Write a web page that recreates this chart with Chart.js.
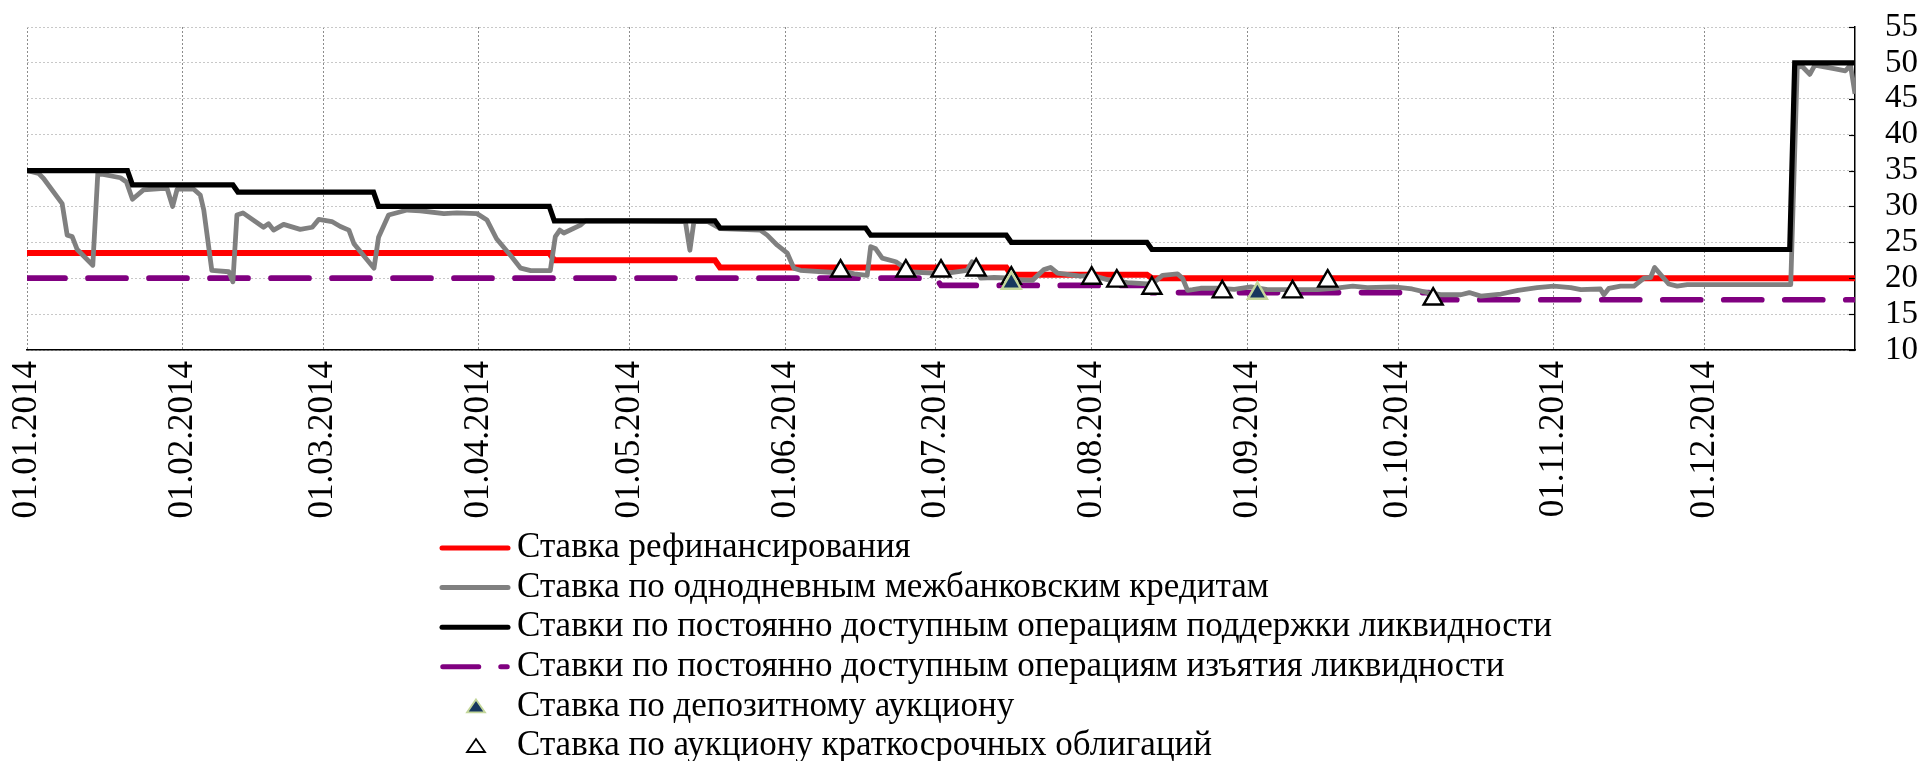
<!DOCTYPE html>
<html>
<head>
<meta charset="utf-8">
<script src="https://cdn.jsdelivr.net/npm/chart.js@4.4.1/dist/chart.umd.min.js"></script>
<style>
  body { margin: 0; background: #fff; }
  canvas { display: block; }
</style>
</head>
<body>
<canvas id="myChart" width="1923" height="761"></canvas>
<script>
// x axis = day of year 2014 (0 = 01.01.2014)
const monthDays = [0, 31, 59, 90, 120, 151, 181, 212, 243, 273, 304, 334];
const monthLabels = ['01.01.2014', '01.02.2014', '01.03.2014', '01.04.2014', '01.05.2014', '01.06.2014',
    '01.07.2014', '01.08.2014', '01.09.2014', '01.10.2014', '01.11.2014', '01.12.2014'];
const yTicks = [10, 15, 20, 25, 30, 35, 40, 45, 50, 55];

// Ставка рефинансирования
const refiDays  = [0, 104, 105, 137, 138, 195, 196, 223, 224, 364];
const refiRates = [23.5, 23.5, 22.5, 22.5, 21.5, 21.5, 20.5, 20.5, 20, 20];

// Ставка по однодневным межбанковским кредитам
const overnightDays = [0, 2.3, 3.3, 7, 8, 9, 10, 13.1, 14.1, 18.6, 19.8, 21, 23.2, 26.6, 27.9, 29, 29.9, 33.2, 34.5, 35.2,
    36.8, 40.2, 41, 41.8, 43, 47.1, 48.1, 49.1, 51.1, 54.4, 56.8, 58.1, 60.7, 62.4, 64.1, 65.1, 69.1, 70, 72, 75.7,
    78.3, 83, 85.6, 89.6, 91.6, 93.5, 96.5, 98.3, 100.3, 104.2, 105.2, 106.1, 106.9, 110.2, 111.2, 120, 131.1, 132, 132.8, 135.5,
    138.1, 146, 147.4, 149.4, 151.4, 152.7, 154, 160.7, 162, 164.7, 167.3, 168, 169, 170.3, 173, 174, 175, 180.6, 183.3, 187.2,
    188.2, 189.9, 192.6, 196.5, 197.9, 200.2, 202.5, 203.8, 205.2, 209.8, 212.1, 215.1, 219.1, 223.1, 224.4, 226.1, 229.1, 230.1, 231.1, 232.1,
    233.7, 237.7, 240.4, 243.7, 247, 251.6, 257, 260.3, 264, 266.9, 272.2, 275.8, 278.9, 281.5, 285.5, 287.2, 289.5, 293.5, 296.9, 300.7,
    304, 307.4, 309.4, 313.3, 314, 315, 317.3, 320, 322, 323.3, 324.1, 326.9, 328.6, 330.6, 351.2, 352.5, 353.5, 355, 356, 359.8,
    362.1, 363.1, 364];
const overnightRates = [35, 34.6, 33.9, 30.4, 26.0, 25.8, 24.0, 21.8, 34.6, 34.0, 33.4, 31.0, 32.3, 32.5, 32.5, 30.0, 32.4, 32.4, 31.6, 29.5,
    21.1, 20.9, 19.5, 28.8, 29.1, 27.1, 27.6, 26.7, 27.5, 26.8, 27.1, 28.2, 27.9, 27.2, 26.7, 24.8, 21.4, 25.7, 28.8, 29.5,
    29.4, 29.0, 29.1, 29.0, 28.1, 25.5, 23.0, 21.4, 21.05, 21.05, 25.8, 26.7, 26.3, 27.4, 28.0, 28.0, 27.9, 23.9, 27.9, 27.9,
    26.9, 26.7, 26.0, 24.6, 23.5, 21.4, 21.1, 20.8, 21.1, 20.6, 20.4, 24.4, 24.1, 22.8, 22.3, 21.8, 20.9, 20.7, 20.7, 21.1,
    22.3, 20.0, 20.1, 20.0, 19.75, 19.7, 21.2, 21.5, 20.7, 20.3, 20.4, 19.8, 19.4, 19.2, 19.4, 20.4, 20.6, 20.0, 18.3, 18.4,
    18.6, 18.6, 18.45, 18.8, 18.4, 18.4, 18.4, 18.6, 18.9, 18.7, 18.8, 18.5, 18.0, 17.7, 17.7, 18.0, 17.5, 17.8, 18.3, 18.7,
    18.9, 18.7, 18.4, 18.5, 17.7, 18.6, 18.9, 18.9, 20.0, 20.1, 21.5, 19.2, 18.9, 19.1, 19.1, 49.4, 49.5, 48.4, 49.7, 49.2,
    48.9, 49.7, 45.7];

// Ставки по постоянно доступным операциям поддержки ликвидности
const supportDays  = [0, 20, 21, 41, 42, 69, 70, 104, 105, 137, 138, 167, 168, 195, 196, 223, 224, 351, 352, 364];
const supportRates = [35, 35, 33, 33, 32, 32, 30, 30, 28, 28, 27, 27, 26, 26, 25, 25, 24, 24, 50, 50];

// Ставки по постоянно доступным операциям изъятия ликвидности
const absorbDays  = [0, 181, 182, 223, 224, 279, 280, 364];
const absorbRates = [20, 20, 19, 19, 18, 18, 17, 17];

// Ставка по депозитному аукциону
const depositDays  = [196, 245];
const depositRates = [19.3, 17.9];

// Ставка по аукциону краткосрочных облигаций
const bondDays  = [162, 175, 182, 189, 196, 212, 217, 224, 238, 252, 259, 280];
const bondRates = [21.0, 21.0, 21.0, 21.15, 20.0, 20.0, 19.6, 18.6, 18.1, 18.1, 19.6, 17.1];

function toPoints(days, rates) {
    return days.map((d, i) => ({ x: d, y: rates[i] }));
}

const FONT = '"Liberation Serif", "Times New Roman", serif';

// legend drawn as one item per row under the chart, plus short inward ticks on the right axis
const rowLegend = {
    id: 'rowLegend',
    afterDraw(chart) {
        const ctx = chart.ctx;
        const yScale = chart.scales.y;
        ctx.save();
        ctx.strokeStyle = '#000';
        ctx.lineWidth = 1.2;
        yTicks.forEach(v => {
            const py = Math.round(yScale.getPixelForValue(v)) + 0.5;
            ctx.beginPath();
            ctx.moveTo(yScale.left - 6, py);
            ctx.lineTo(yScale.left, py);
            ctx.stroke();
        });

        ctx.font = '35px ' + FONT;
        ctx.textBaseline = 'middle';
        chart.data.datasets.forEach((ds, i) => {
            const y = 548 + i * 39.6;
            if (ds.showLine === false) {
                ctx.beginPath();
                ctx.moveTo(476, y - 7);
                ctx.lineTo(485, y + 6);
                ctx.lineTo(467, y + 6);
                ctx.closePath();
                ctx.fillStyle = ds.pointBackgroundColor;
                ctx.fill();
                ctx.lineWidth = 1.8;
                ctx.strokeStyle = ds.pointBorderColor;
                ctx.stroke();
            } else {
                ctx.beginPath();
                ctx.lineWidth = 5;
                ctx.strokeStyle = ds.borderColor;
                ctx.lineCap = 'round';
                if (ds.borderDash) {
                    ctx.setLineDash([36, 22]);
                    ctx.moveTo(442.75, y);
                    ctx.lineTo(507.25, y);
                } else {
                    ctx.setLineDash([]);
                    ctx.moveTo(442, y);
                    ctx.lineTo(508, y);
                }
                ctx.stroke();
                ctx.setLineDash([]);
            }
            ctx.fillStyle = '#000';
            ctx.fillText(ds.label, 517, y);
        });
        ctx.restore();
    }
};

const ctx = document.getElementById('myChart').getContext('2d');
const myChart = new Chart(ctx, {
    type: 'line',
    data: {
        datasets: [
            {
                label: 'Ставка рефинансирования',
                data: toPoints(refiDays, refiRates),
                borderColor: '#ff0000',
                borderWidth: 6,
                pointRadius: 0,
                order: 3
            },
            {
                label: 'Ставка по однодневным межбанковским кредитам',
                data: toPoints(overnightDays, overnightRates),
                borderColor: '#808080',
                borderWidth: 4.8,
                borderJoinStyle: 'round',
                pointRadius: 0,
                order: 2
            },
            {
                label: 'Ставки по постоянно доступным операциям поддержки ликвидности',
                data: toPoints(supportDays, supportRates),
                borderColor: '#000000',
                borderWidth: 5.2,
                pointRadius: 0,
                order: 1
            },
            {
                label: 'Ставки по постоянно доступным операциям изъятия ликвидности',
                data: toPoints(absorbDays, absorbRates),
                borderColor: '#800080',
                borderWidth: 5.7,
                borderDash: [38, 23],
                borderCapStyle: 'round',
                pointRadius: 0,
                order: 4
            },
            {
                label: 'Ставка по депозитному аукциону',
                data: toPoints(depositDays, depositRates),
                showLine: false,
                pointStyle: 'triangle',
                pointRadius: 11,
                pointBorderWidth: 2.4,
                pointBackgroundColor: '#17375e',
                pointBorderColor: '#c4d79b',
                order: 0
            },
            {
                label: 'Ставка по аукциону краткосрочных облигаций',
                data: toPoints(bondDays, bondRates),
                showLine: false,
                pointStyle: 'triangle',
                pointRadius: 11,
                pointBorderWidth: 2.4,
                pointBackgroundColor: '#ffffff',
                pointBorderColor: '#000000',
                order: 0
            }
        ]
    },
    options: {
        responsive: false,
        animation: false,
        layout: { padding: { left: 27, top: 27, right: 0, bottom: 231 } },
        plugins: {
            legend: { display: false },
            tooltip: { enabled: false }
        },
        scales: {
            x: {
                type: 'linear',
                min: 0,
                max: 364,
                afterBuildTicks: (s) => { s.ticks = monthDays.map(v => ({ value: v })); },
                afterFit: (s) => { s.height = 180; },
                ticks: {
                    autoSkip: false,
                    minRotation: 90,
                    maxRotation: 90,
                    padding: 11,
                    color: '#000',
                    font: { family: FONT, size: 35 },
                    callback: (v) => monthLabels[monthDays.indexOf(v)]
                },
                grid: { color: '#8c8c8c', lineWidth: 1, drawTicks: false },
                border: { display: true, color: '#000', width: 1.5, dash: [2, 2] }
            },
            y: {
                position: 'right',
                min: 10,
                max: 55,
                afterBuildTicks: (s) => { s.ticks = yTicks.map(v => ({ value: v })); },
                afterFit: (s) => { s.width = 68; },
                ticks: {
                    autoSkip: false,
                    padding: 4,
                    color: '#000',
                    font: { family: FONT, size: 33, lineHeight: 1 }
                },
                grid: { color: '#c8c8c8', lineWidth: 1, drawTicks: true, tickLength: 26, tickColor: 'rgba(0,0,0,0)' },
                border: { display: true, color: '#000', width: 1.5, dash: [2, 2] }
            }
        }
    },
    plugins: [rowLegend]
});
</script>
</body>
</html>
